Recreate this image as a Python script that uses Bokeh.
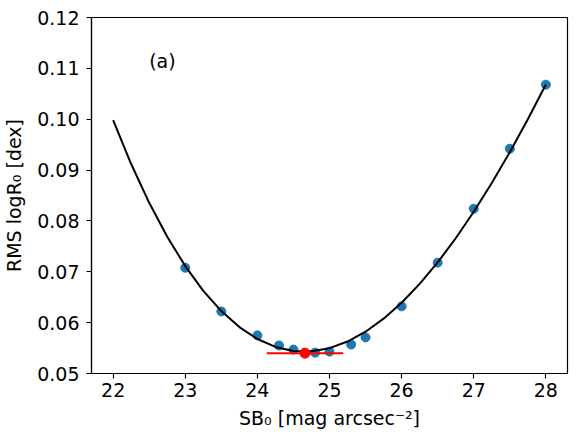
from bokeh.plotting import figure
from bokeh.models import Range1d, FixedTicker, PrintfTickFormatter, Label
from bokeh.embed import file_html
from bokeh.resources import INLINE

# measured points
sb0 = [23.0, 23.5, 24.0, 24.3, 24.5, 24.8, 25.0, 25.3, 25.5, 26.0, 26.5, 27.0, 27.5, 28.0]
rms = [0.0708, 0.0622, 0.0575, 0.0555, 0.0547, 0.0541, 0.0543, 0.0557, 0.0571, 0.0632, 0.0718, 0.0824, 0.0942, 0.1068]

# fitted curve
fit_x = [22.0, 22.25, 22.5, 22.75, 23.0, 23.25, 23.5, 23.75, 24.0, 24.25, 24.5, 24.75,
         25.0, 25.25, 25.5, 25.75, 26.0, 26.25, 26.5, 26.75, 27.0, 27.25, 27.5, 27.75, 28.0]
fit_y = [0.09980, 0.09119, 0.08356, 0.07688, 0.07112, 0.06626, 0.06227, 0.05912, 0.05678,
         0.05523, 0.05443, 0.05436, 0.05498, 0.05628, 0.05822, 0.06078, 0.06392, 0.06762,
         0.07185, 0.07659, 0.08180, 0.08745, 0.09352, 0.09999, 0.10681]

# best value and its uncertainty
best_x = 24.66
best_y = 0.0540
best_err = 0.53

x_ticks = [22, 23, 24, 25, 26, 27, 28]
y_ticks = [0.05, 0.06, 0.07, 0.08, 0.09, 0.10, 0.11, 0.12]

FONT = "DejaVu Sans"
FS = "19px"

p = figure(width=582, height=441, output_backend="svg", toolbar_location=None,
           x_range=Range1d(21.7, 28.3), y_range=Range1d(0.05, 0.12),
           min_border_left=90, min_border_right=15, min_border_top=17, min_border_bottom=68)

p.grid.visible = False
p.outline_line_color = "black"
p.outline_line_width = 1.2
p.background_fill_color = "white"
p.border_fill_color = "white"

for ax in (p.xaxis[0], p.yaxis[0]):
    ax.major_label_text_font = FONT
    ax.major_label_text_font_size = FS
    ax.major_label_text_color = "black"
    ax.axis_label_text_font = FONT
    ax.axis_label_text_font_size = FS
    ax.axis_label_text_font_style = "normal"
    ax.axis_label_text_color = "black"
    ax.axis_line_color = "black"
    ax.axis_line_width = 1.2
    ax.major_tick_line_color = "black"
    ax.major_tick_line_width = 1.2
    ax.major_tick_out = 5
    ax.major_tick_in = 0
    ax.minor_tick_line_color = None

p.xaxis.ticker = FixedTicker(ticks=x_ticks)
p.yaxis.ticker = FixedTicker(ticks=y_ticks)
p.yaxis.formatter = PrintfTickFormatter(format="%.2f")
p.xaxis.axis_label = "SB\u2080 [mag arcsec\u207b\u00b2]"
p.yaxis.axis_label = "RMS logR\u2080 [dex]"
p.xaxis.major_label_standoff = 4
p.xaxis.axis_label_standoff = 7
p.yaxis.major_label_standoff = 7
p.yaxis.axis_label_standoff = 9

p.scatter(sb0, rms, size=9, color="#1f77b4")
p.line(fit_x, fit_y, line_color="black", line_width=2)
p.line([best_x - best_err, best_x + best_err], [best_y, best_y], line_color="red", line_width=2)
p.scatter([best_x], [best_y], size=10, color="red")

p.add_layout(Label(x=22.5, y=0.1115, text="(a)", text_font=FONT, text_font_size=FS,
                   text_color="black", text_baseline="alphabetic"))

open("out.html", "w").write(file_html(p, INLINE))
